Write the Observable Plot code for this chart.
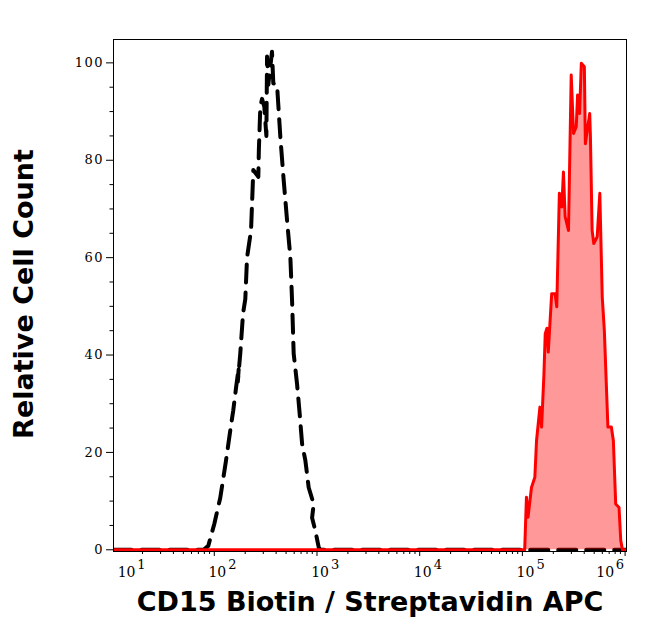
<!DOCTYPE html>
<html><head><meta charset="utf-8">
<script src="https://cdn.jsdelivr.net/npm/d3@7"></script>
<script src="https://cdn.jsdelivr.net/npm/@observablehq/plot@0.6"></script>
<style>body{margin:0;background:#fff;} #chart{width:646px;height:641px;}</style>
</head><body><div id="chart"></div>
<script>
// Negative control (black dashed)
const negX = [10.44, 78.7, 87.4, 100, 114.4, 130, 146.5, 153, 163.8, 173.3, 169.4, 179.1, 190.5, 200.5, 208.4, 228, 238.5, 239.8, 268.5, 271.6, 280.7, 291.7, 307, 321.5, 326.4, 335.9, 364.7, 375.6, 408.3, 439.7, 473.6, 511, 550.7, 571.9, 580, 592.9, 640, 678, 716, 771, 830, 929, 896, 964, 1040, 1079, 1032000];
const negY = [0, 0, 0.8, 5.3, 10.7, 18.3, 26, 28.6, 33.7, 37.5, 34.5, 40.3, 48.5, 51.5, 60, 65.6, 76.6, 78, 76.6, 82, 91, 92.6, 91, 85, 101.3, 95.5, 102.3, 95.8, 95.5, 84.8, 76, 67.7, 60, 51.2, 47, 40.3, 34, 28, 21.8, 18.3, 12.8, 9.4, 6.6, 3.9, 0.5, 0, 0];
// CD15 stained (red filled)
const posX = [10.44, 105300, 109500, 113500, 122600, 132200, 137300, 148100, 153800, 162100, 166900, 173400, 178600, 192900, 208000, 216100, 229100, 242100, 251000, 260900, 281100, 298800, 314800, 334600, 344600, 360600, 374800, 401200, 410400, 452400, 459600, 477600, 495400, 535000, 567500, 599200, 628000, 680200, 734700, 768800, 810000, 873000, 907200, 942800, 1032000];
const posY = [0, 0, 10.8, 6.7, 12.8, 14.9, 22.4, 29.3, 25.2, 36.1, 44.4, 45.5, 40.6, 52.6, 52.6, 49.9, 73.2, 70.4, 77.6, 68.4, 65.6, 97.5, 85.5, 86.9, 93.4, 89.6, 99.9, 99.2, 83.4, 89.6, 84.8, 65.6, 62.9, 64.3, 73.2, 51.9, 45, 25.2, 25.2, 22.4, 9.4, 8.7, 1.9, 0, 0];

const yTicks = [0, 20, 40, 60, 80, 100];
const yMinorTicks = [5, 10, 15, 25, 30, 35, 45, 50, 55, 65, 70, 75, 85, 90, 95];
const xDecades = [10, 100, 1000, 10000, 100000, 1000000];
const xExponents = ["1", "2", "3", "4", "5", "6"];
const xTitle = "CD15 Biotin / Streptavidin APC";
const yTitle = "Relative Cell Count";
const xDomain = [10.44, 1032000];
const yDomain = [-0.35, 104.8];

const negData = negX.map((x, i) => ({x, y: negY[i]}));
const posData = posX.map((x, i) => ({x, y: posY[i]}));
const xMinor = [];
for (const d of xDecades) for (let k = 2; k <= 9; k++) { const v = d * k; if (v >= xDomain[0] && v <= xDomain[1]) xMinor.push(v); }
const midDecades = xDecades.slice(1, -1).map((v, i) => ({v, e: xExponents[i + 1]}));

const serif = "DejaVu Serif";
const sans = "DejaVu Sans";

const chart = Plot.plot({
  width: 646, height: 641,
  marginLeft: 113, marginRight: 20, marginTop: 39, marginBottom: 90,
  style: {fontFamily: serif, fontSize: "13px", background: "white", color: "black"},
  x: {type: "log", domain: xDomain},
  y: {domain: yDomain},
  marks: [
    Plot.axisY({ticks: yTicks, tickSize: 7, tickPadding: 2.5, label: null, fontSize: 13, fontFamily: serif}),
    Plot.axisY({ticks: yMinorTicks, tickSize: 3.5, tickFormat: () => "", label: null}),
    Plot.axisX({ticks: xDecades.filter(v => v >= xDomain[0] && v <= xDomain[1]), tickSize: 5, tickFormat: () => "", label: null}),
    Plot.axisX({ticks: xMinor, tickSize: 3, tickFormat: () => "", label: null}),
    Plot.text(midDecades, {x: "v", text: () => "10", frameAnchor: "bottom", textAnchor: "end", dx: 12, dy: 25.8, fontSize: 14, fontFamily: serif}),
    Plot.text(midDecades, {x: "v", text: "e", frameAnchor: "bottom", textAnchor: "start", dx: 14, dy: 17.8, fontSize: 13, fontFamily: serif}),
    Plot.text([xExponents[0]], {text: () => "10", frameAnchor: "bottom-left", textAnchor: "end", dx: 22, dy: 25.8, fontSize: 14, fontFamily: serif}),
    Plot.text([xExponents[0]], {text: d => d, frameAnchor: "bottom-left", textAnchor: "start", dx: 23.7, dy: 17.8, fontSize: 13, fontFamily: serif}),
    Plot.text([xExponents[5]], {text: () => "10", frameAnchor: "bottom-right", textAnchor: "end", dx: -12.4, dy: 25.8, fontSize: 14, fontFamily: serif}),
    Plot.text([xExponents[5]], {text: d => d, frameAnchor: "bottom-right", textAnchor: "start", dx: -10.7, dy: 17.8, fontSize: 13, fontFamily: serif}),
    Plot.line(negData, {x: "x", y: "y", stroke: "black", strokeWidth: 4, strokeDasharray: "18,10", clip: true}),
    Plot.areaY(posData, {x: "x", y: "y", fill: "red", fillOpacity: 0.4, clip: true}),
    Plot.line(posData, {x: "x", y: "y", stroke: "red", strokeWidth: 3, clip: true}),
    Plot.frame({stroke: "black", strokeWidth: 1}),
    Plot.text([xTitle], {text: d => d, frameAnchor: "bottom", dy: 59.5, fontSize: 27, fontWeight: "bold", fontFamily: sans}),
    Plot.text([yTitle], {text: d => d, frameAnchor: "left", textAnchor: "middle", rotate: -90, dx: -89, dy: -1.5, fontSize: 27, fontWeight: "bold", fontFamily: sans})
  ]
});
document.getElementById("chart").appendChild(chart);
d3.select(chart).selectAll("g[aria-label='y-axis tick label'] text").attr("letter-spacing", "1.5px");
</script>
</body></html>
